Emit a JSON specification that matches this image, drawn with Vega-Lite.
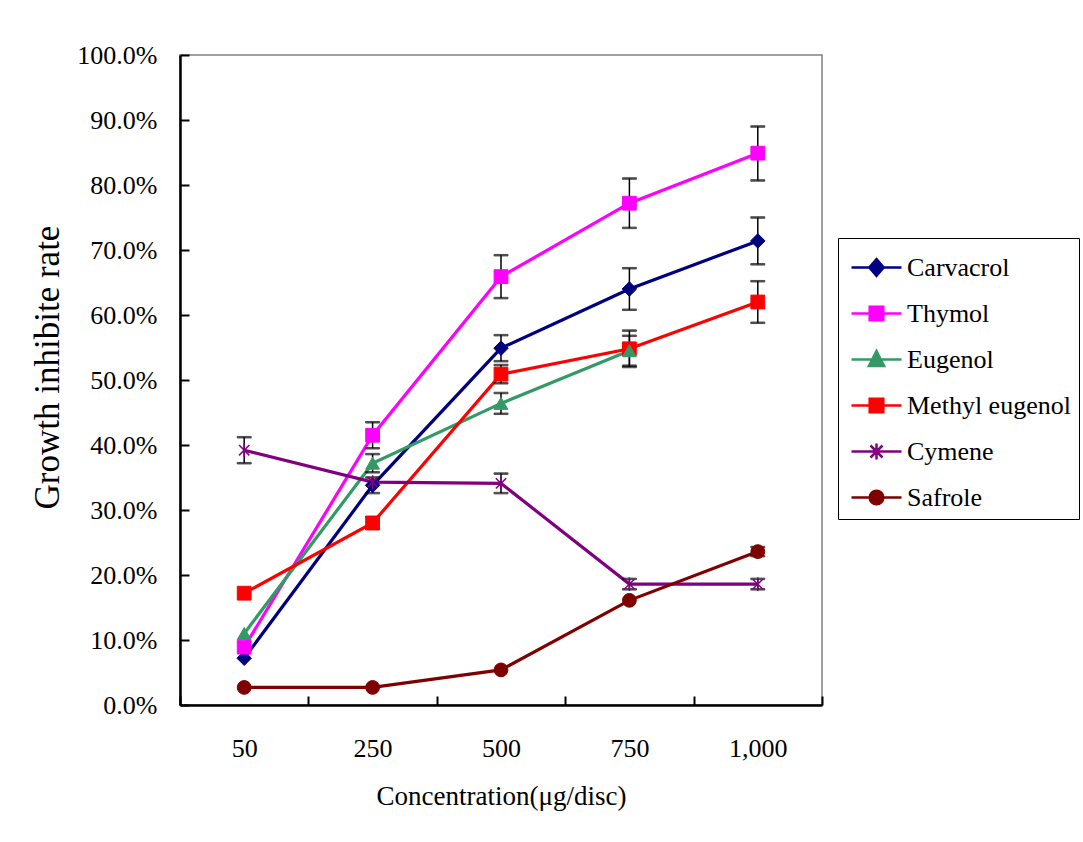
{
  "$schema": "https://vega.github.io/schema/vega-lite/v6.json",
  "width": 642,
  "height": 650,
  "autosize": "none",
  "padding": {"left": 180, "top": 55, "right": 261, "bottom": 137},
  "background": "white",
  "config": {
    "view": {"stroke": "#808080", "strokeWidth": 1.5},
    "font": "Liberation Serif"
  },
  "data": {
    "values": [
      {"s": "Carvacrol", "c": "50", "v": 0.072},
      {"s": "Carvacrol", "c": "250", "v": 0.338, "lo": 0.326, "hi": 0.350},
      {"s": "Carvacrol", "c": "500", "v": 0.549, "lo": 0.529, "hi": 0.569},
      {"s": "Carvacrol", "c": "750", "v": 0.640, "lo": 0.608, "hi": 0.672},
      {"s": "Carvacrol", "c": "1,000", "v": 0.714, "lo": 0.678, "hi": 0.750},
      {"s": "Thymol", "c": "50", "v": 0.089},
      {"s": "Thymol", "c": "250", "v": 0.415, "lo": 0.395, "hi": 0.435},
      {"s": "Thymol", "c": "500", "v": 0.659, "lo": 0.626, "hi": 0.692},
      {"s": "Thymol", "c": "750", "v": 0.772, "lo": 0.734, "hi": 0.810},
      {"s": "Thymol", "c": "1,000", "v": 0.849, "lo": 0.807, "hi": 0.890},
      {"s": "Eugenol", "c": "50", "v": 0.110},
      {"s": "Eugenol", "c": "250", "v": 0.372, "lo": 0.358, "hi": 0.386},
      {"s": "Eugenol", "c": "500", "v": 0.464, "lo": 0.448, "hi": 0.480},
      {"s": "Eugenol", "c": "750", "v": 0.545, "lo": 0.522, "hi": 0.568},
      {"s": "Methyl eugenol", "c": "50", "v": 0.172},
      {"s": "Methyl eugenol", "c": "250", "v": 0.280, "lo": 0.271, "hi": 0.289},
      {"s": "Methyl eugenol", "c": "500", "v": 0.509, "lo": 0.495, "hi": 0.523},
      {"s": "Methyl eugenol", "c": "750", "v": 0.548, "lo": 0.520, "hi": 0.576},
      {"s": "Methyl eugenol", "c": "1,000", "v": 0.620, "lo": 0.588, "hi": 0.652},
      {"s": "Cymene", "c": "50", "v": 0.392, "lo": 0.372, "hi": 0.412},
      {"s": "Cymene", "c": "250", "v": 0.343},
      {"s": "Cymene", "c": "500", "v": 0.341, "lo": 0.326, "hi": 0.356},
      {"s": "Cymene", "c": "750", "v": 0.186, "lo": 0.178, "hi": 0.194},
      {"s": "Cymene", "c": "1,000", "v": 0.186, "lo": 0.178, "hi": 0.194},
      {"s": "Safrole", "c": "50", "v": 0.027},
      {"s": "Safrole", "c": "250", "v": 0.027},
      {"s": "Safrole", "c": "500", "v": 0.054},
      {"s": "Safrole", "c": "750", "v": 0.161},
      {"s": "Safrole", "c": "1,000", "v": 0.236, "lo": 0.229, "hi": 0.243}
    ]
  },
  "encoding": {
    "x": {
      "field": "c",
      "type": "ordinal",
      "bandPosition": 0.5,
      "scale": {"type": "band", "domain": ["50", "250", "500", "750", "1,000"], "paddingInner": 0, "paddingOuter": 0},
      "title": "Concentration(μg/disc)",
      "axis": {
        "labelAngle": 0,
        "domainColor": "black",
        "domainWidth": 2.5,
        "tickColor": "black",
        "tickWidth": 2,
        "tickSize": -9,
        "tickBand": "extent",
        "labelFontSize": 26,
        "labelColor": "black",
        "labelPadding": 39,
        "titleFontSize": 27,
        "titleFontWeight": "normal",
        "titleColor": "black",
        "titlePadding": 22
      }
    },
    "y": {
      "field": "v",
      "type": "quantitative",
      "scale": {"domain": [0, 1]},
      "title": "Growth inhibite rate",
      "axis": {
        "format": ".1%",
        "values": [0, 0.1, 0.2, 0.3, 0.4, 0.5, 0.6, 0.7, 0.8, 0.9, 1.0],
        "grid": false,
        "domainColor": "black",
        "domainWidth": 2.5,
        "tickColor": "black",
        "tickWidth": 2,
        "tickSize": -9,
        "labelFontSize": 26,
        "labelColor": "black",
        "labelPadding": 32,
        "titleFontSize": 35,
        "titleFontWeight": "normal",
        "titleColor": "black",
        "titlePadding": 11,
        "titleY": 312
      }
    },
    "color": {
      "field": "s",
      "type": "nominal",
      "scale": {
        "domain": ["Carvacrol", "Thymol", "Eugenol", "Methyl eugenol", "Cymene", "Safrole"],
        "range": ["#000080", "#FF00FF", "#339966", "#FF0000", "#800080", "#800000"]
      }
    },
    "stroke": {
      "field": "s",
      "type": "nominal",
      "scale": {
        "domain": ["Carvacrol", "Thymol", "Eugenol", "Methyl eugenol", "Cymene", "Safrole"],
        "range": ["#000080", "#FF00FF", "#339966", "#FF0000", "#800080", "#800000"]
      }
    }
  },
  "layer": [
    {
      "mark": {"type": "line", "strokeWidth": 3.2}
    },
    {
      "transform": [{"filter": "datum.lo != null"}],
      "mark": {"type": "rule", "color": "black", "strokeWidth": 1.5},
      "encoding": {
        "y": {"field": "lo", "type": "quantitative"},
        "y2": {"field": "hi"},
        "color": {"value": "black"},
        "stroke": {"value": "black"}
      }
    },
    {
      "transform": [{"filter": "datum.lo != null"}],
      "mark": {"type": "tick", "size": 14, "thickness": 1.5},
      "encoding": {"y": {"field": "lo", "type": "quantitative"}, "color": {"value": "black"}, "stroke": {"value": "black"}}
    },
    {
      "transform": [{"filter": "datum.lo != null"}],
      "mark": {"type": "tick", "size": 14, "thickness": 1.5},
      "encoding": {"y": {"field": "hi", "type": "quantitative"}, "color": {"value": "black"}, "stroke": {"value": "black"}}
    },
    {
      "transform": [{"filter": "datum.s === 'Carvacrol'"}],
      "mark": {"type": "point", "filled": true, "shape": "diamond", "size": 210, "strokeWidth": 1, "opacity": 1}
    },
    {
      "transform": [{"filter": "datum.s === 'Thymol' || datum.s === 'Methyl eugenol'"}],
      "mark": {"type": "point", "filled": true, "shape": "square", "size": 190, "strokeWidth": 1, "opacity": 1}
    },
    {
      "transform": [{"filter": "datum.s === 'Eugenol'"}],
      "mark": {"type": "point", "filled": true, "shape": "triangle-up", "size": 190, "strokeWidth": 1, "opacity": 1}
    },
    {
      "transform": [{"filter": "datum.s === 'Cymene'"}],
      "mark": {"type": "point", "filled": true, "shape": "M-0.75,-0.75L0.75,0.75M-0.75,0.75L0.75,-0.75M0,-1L0,1", "size": 190, "strokeWidth": 1.5, "opacity": 1}
    },
    {
      "transform": [{"filter": "datum.s === 'Safrole'"}],
      "mark": {"type": "point", "filled": true, "shape": "circle", "size": 190, "strokeWidth": 1, "opacity": 1}
    },
    {
      "transform": [{"filter": "false"}],
      "mark": {"type": "point", "filled": true, "opacity": 1},
      "encoding": {
        "shape": {
          "field": "s",
          "type": "nominal",
          "scale": {
            "domain": ["Carvacrol", "Thymol", "Eugenol", "Methyl eugenol", "Cymene", "Safrole"],
            "range": [
              "M-1.25,0L1.25,0M0,-0.42L0.36,0L0,0.42L-0.36,0Z",
              "M-1.25,0L1.25,0M-0.34,-0.34L0.34,-0.34L0.34,0.34L-0.34,0.34Z",
              "M-1.25,0L1.25,0M0,-0.42L0.38,0.32L-0.38,0.32Z",
              "M-1.25,0L1.25,0M-0.34,-0.34L0.34,-0.34L0.34,0.34L-0.34,0.34Z",
              "M-1.25,0L1.25,0M-0.3,-0.3L0.3,0.3M-0.3,0.3L0.3,-0.3M0,-0.4L0,0.4",
              "M-1.25,0L1.25,0M-0.34,0A0.34,0.34 0 1,1 0.34,0A0.34,0.34 0 1,1 -0.34,0Z"
            ]
          },
          "legend": {
            "title": null,
            "orient": "none",
            "legendX": 658,
            "legendY": 183,
            "strokeColor": "black",
            "fillColor": "white",
            "padding": 8,
            "rowPadding": 11,
            "symbolOffset": 9,
            "labelOffset": 9,
            "labelFont": "Liberation Serif",
            "labelFontSize": 26,
            "labelColor": "black",
            "labelLimit": 400,
            "symbolSize": 1600,
            "symbolStrokeWidth": 2.5,
            "symbolOpacity": 1
          }
        }
      }
    }
  ]
}
